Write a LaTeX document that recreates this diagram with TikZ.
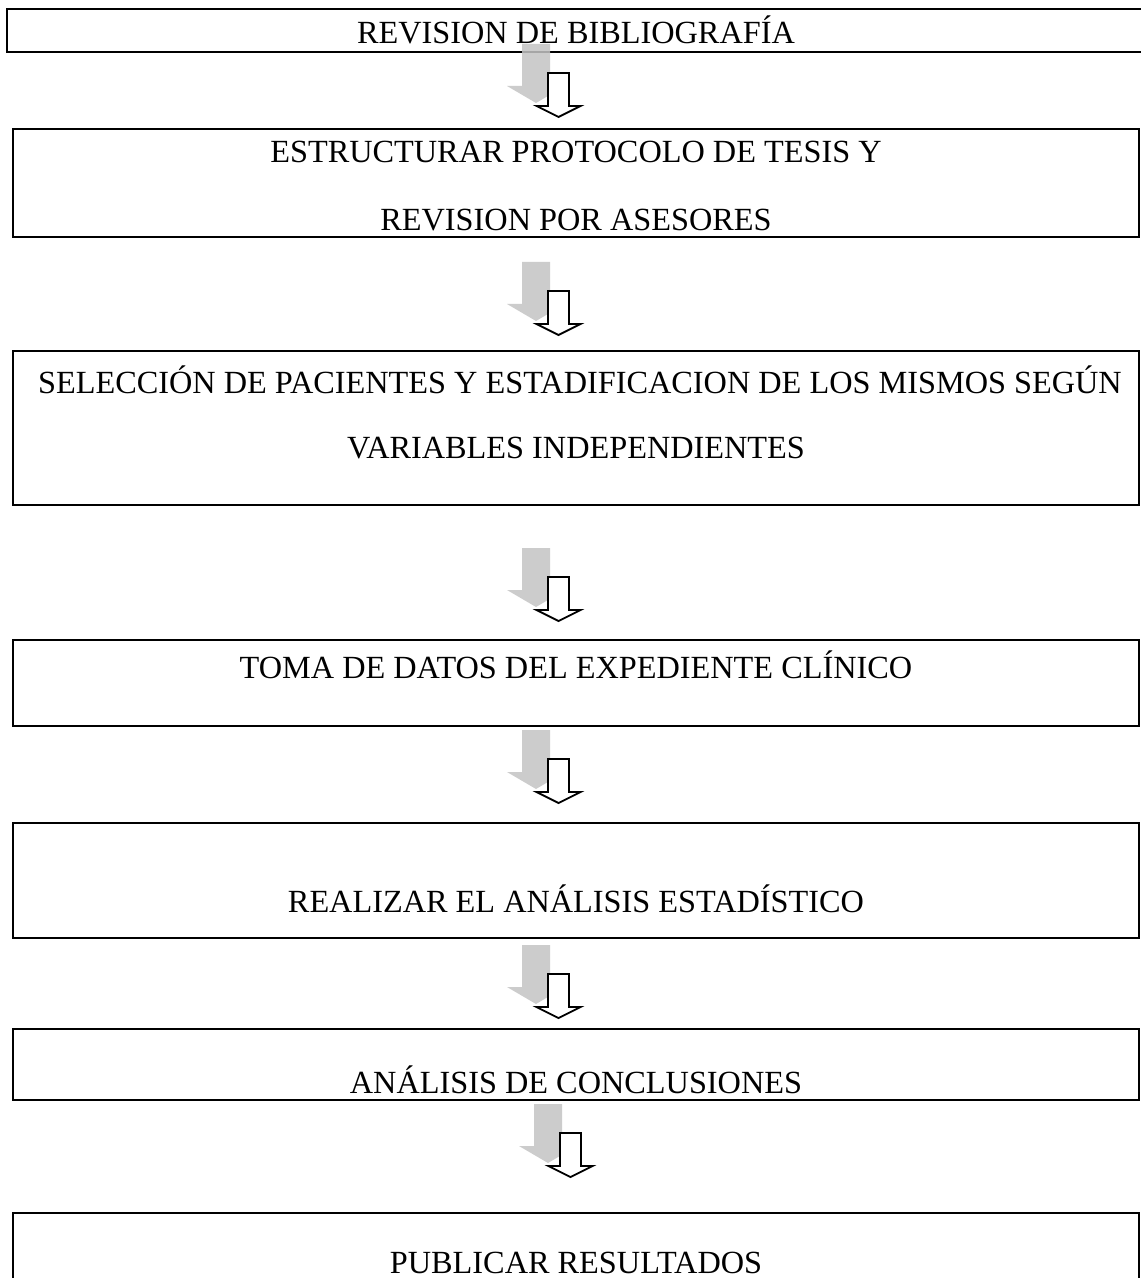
\documentclass[tikz,border=0pt]{standalone}
\usepackage{fontspec}
\setmainfont{Liberation Serif}
\definecolor{shadowgray}{RGB}{196,196,196}
\tikzset{
  box/.style={draw=black, line width=1.1pt, fill=none},
  txt/.style={font=\fontsize{16.15}{19}\selectfont, inner sep=0pt, anchor=base},
  blockarrow/.pic={
    \fill[shadowgray, fill opacity=0.85] (-36.5,-29) -- (-8.5,-29) -- (-8.5,13) -- (6.5,13)
      -- (-22.5,30) -- (-51.5,13) -- (-36.5,13) -- cycle;
    \draw[line width=0.9pt, fill=white, line join=miter] (-10.5,0) -- (10.5,0) -- (10.5,33) -- (22,33)
      -- (0,44) -- (-22,33) -- (-10.5,33) -- cycle;
  }
}
\begin{document}
\begin{tikzpicture}[x=0.5pt, y=-0.5pt]
\useasboundingbox (0,0) rectangle (1140,1278);
\fill[white] (0,0) rectangle (1140,1278);

% boxes
\draw[box] (7,9) rectangle (1150,52) coordinate (b1);
\node[box, anchor=north west, minimum width=563pt, minimum height=54pt, inner sep=0pt] (b2) at (12,128) {};
\node[box, anchor=north west, minimum width=563pt, minimum height=77pt, inner sep=0pt] (b3) at (12,350) {};
\node[box, anchor=north west, minimum width=563pt, minimum height=43pt, inner sep=0pt] (b4) at (12,639) {};
\node[box, anchor=north west, minimum width=563pt, minimum height=57.5pt, inner sep=0pt] (b5) at (12,822) {};
\node[box, anchor=north west, minimum width=563pt, minimum height=35.5pt, inner sep=0pt] (b6) at (12,1028) {};
\node[box, anchor=north west, minimum width=563pt, minimum height=45pt, inner sep=0pt] (b7) at (12,1212) {};

% texts
\node[txt] (t1) at (576,43.5) {REVISION DE BIBLIOGRAFÍA};
\node[txt] (t2a) at (576,162.5) {ESTRUCTURAR PROTOCOLO DE TESIS Y};
\node[txt] (t2b) at (576,230.5) {REVISION POR ASESORES};
\node[txt] (t3a) at (580,393.5) {SELECCIÓN DE PACIENTES Y ESTADIFICACION DE LOS MISMOS SEGÚN};
\node[txt] (t3b) at (576,458.5) {VARIABLES INDEPENDIENTES};
\node[txt] (t4) at (576,678.5) {TOMA DE DATOS DEL EXPEDIENTE CLÍNICO};
\node[txt] (t5) at (576,912.5) {REALIZAR EL ANÁLISIS ESTADÍSTICO};
\node[txt] (t6) at (576,1093.5) {ANÁLISIS DE CONCLUSIONES};
\node[txt] (t7) at (576,1273.5) {PUBLICAR RESULTADOS};

% arrows between boxes
\coordinate (a1) at (558.5,73);
\coordinate (a2) at (558.5,291);
\coordinate (a3) at (558.5,577);
\coordinate (a4) at (558.5,759);
\coordinate (a5) at (558.5,974);
\coordinate (a6) at (570.5,1133);
\foreach \a in {a1,a2,a3,a4,a5,a6} { \pic at (\a) {blockarrow}; }
\end{tikzpicture}
\end{document}
